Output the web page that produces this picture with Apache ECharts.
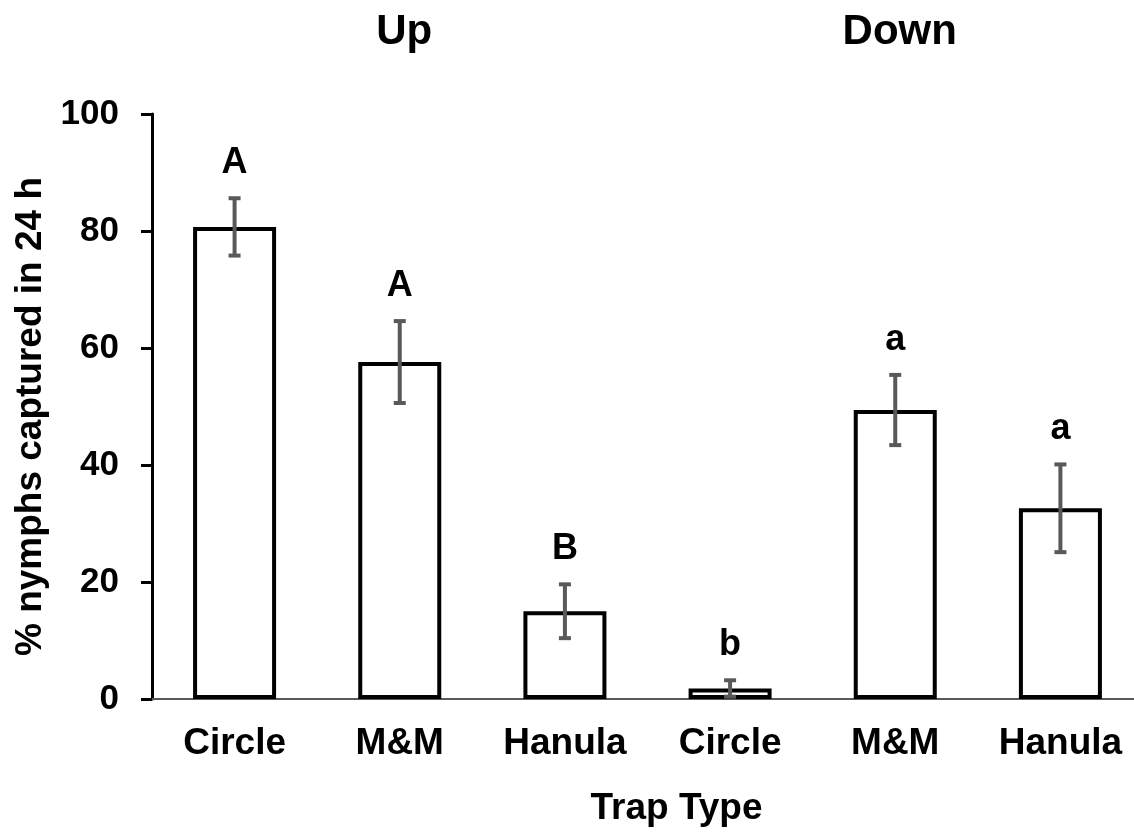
<!DOCTYPE html>
<html>
<head>
<meta charset="utf-8">
<script src="https://cdn.jsdelivr.net/npm/echarts@6/dist/echarts.min.js"></script>
<style>
html,body{margin:0;padding:0;background:#fff;overflow:hidden;width:1134px;height:832px;}
#main{width:1143px;height:832px;}
</style>
</head>
<body>
<div id="main"></div>
<script>
var categories = ['Circle', 'M&M', 'Hanula', 'Circle', 'M&M', 'Hanula'];
var groups = ['Up', 'Down'];
var means = [80.7, 57.6, 15.0, 1.8, 49.4, 32.6];
var errors = [4.9, 7.0, 4.6, 1.4, 6.0, 7.5];
var letters = ['A', 'A', 'B', 'b', 'a', 'a'];
var yTicks = [0, 20, 40, 60, 80, 100];

var FONT = '"Liberation Sans", Arial, sans-serif';

var errData = means.map(function (m, i) {
  return [i, m - errors[i], m + errors[i]];
});

var chart = echarts.init(document.getElementById('main'), null, { renderer: 'canvas' });

chart.setOption({
  animation: false,
  backgroundColor: '#ffffff',
  grid: { left: 152, top: 114, bottom: 132, right: 0, containLabel: false },
  xAxis: [
    {
      type: 'category',
      data: categories,
      position: 'bottom',
      axisLine: { show: true, lineStyle: { color: '#595959', width: 2 } },
      axisTick: { show: false },
      axisLabel: { color: '#000', fontSize: 37, fontWeight: 'bold', fontFamily: FONT, margin: 26, interval: 0 },
      name: 'Trap Type',
      nameLocation: 'middle',
      nameGap: 91,
      nameTextStyle: { color: '#000', fontSize: 37, fontWeight: 'bold', fontFamily: FONT, padding: [0, 0, 0, 58] }
    },
    {
      type: 'category',
      data: groups,
      position: 'top',
      axisLine: { show: false },
      axisTick: { show: false },
      axisLabel: { color: '#000', fontSize: 42, fontWeight: 'bold', fontFamily: FONT, margin: 61, interval: 0, padding: [0, 0, 0, 9] }
    }
  ],
  yAxis: {
    type: 'value',
    min: 0,
    max: 100,
    interval: 20,
    splitLine: { show: false },
    axisLine: { show: true, lineStyle: { color: '#000', width: 3 } },
    axisTick: { show: true, inside: false, length: 11, lineStyle: { color: '#000', width: 3 } },
    axisLabel: {
      color: '#000', fontSize: 35, fontWeight: 'bold', fontFamily: FONT, margin: 33,
      formatter: function (v) { return yTicks.indexOf(v) >= 0 ? String(v) : ''; }
    },
    name: '% nymphs captured in 24 h',
    nameLocation: 'middle',
    nameGap: 102,
    nameTextStyle: { color: '#000', fontSize: 37, fontWeight: 'bold', fontFamily: FONT, padding: [0, 20, 0, 0] }
  },
  series: [
    {
      type: 'bar',
      xAxisIndex: 0,
      data: means,
      barWidth: 83,
      itemStyle: { color: '#ffffff', borderColor: '#000000', borderWidth: 4 },
      z: 2
    },
    {
      type: 'custom',
      xAxisIndex: 0,
      data: errData,
      encode: { x: 0, y: [1, 2] },
      z: 5,
      renderItem: function (params, api) {
        var i = api.value(0);
        var lo = api.coord([i, api.value(1)]);
        var hi = api.coord([i, api.value(2)]);
        var cw = 6;
        var style = { stroke: '#595959', lineWidth: 4 };
        return {
          type: 'group',
          children: [
            { type: 'line', shape: { x1: hi[0], y1: hi[1], x2: lo[0], y2: lo[1] }, style: style },
            { type: 'line', shape: { x1: hi[0] - cw, y1: hi[1], x2: hi[0] + cw, y2: hi[1] }, style: style },
            { type: 'line', shape: { x1: lo[0] - cw, y1: lo[1], x2: lo[0] + cw, y2: lo[1] }, style: style },
            {
              type: 'text',
              style: {
                text: letters[params.dataIndex],
                x: hi[0], y: hi[1] - 35,
                align: 'center', verticalAlign: 'middle',
                fill: '#000',
                font: 'bold 36px ' + FONT
              }
            }
          ]
        };
      }
    }
  ]
});
</script>
</body>
</html>
